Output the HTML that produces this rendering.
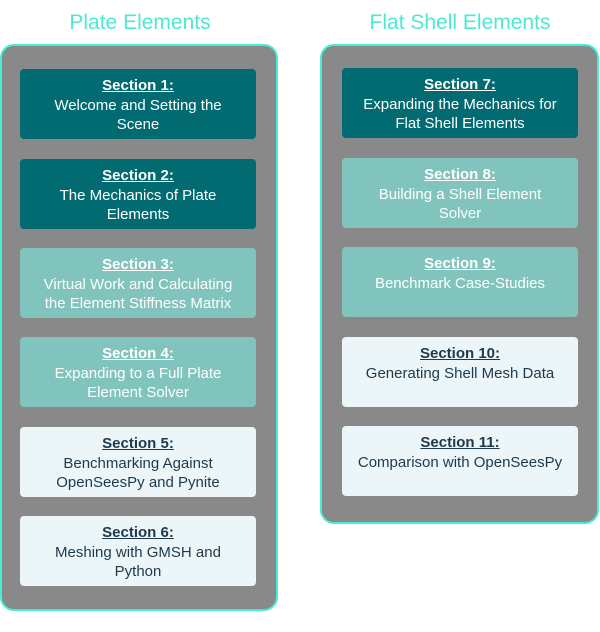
<!DOCTYPE html>
<html><head><style>
body{margin:0;width:600px;height:632px;background:#fff;position:relative;font-family:"Liberation Sans",sans-serif;overflow:hidden}
.t{position:absolute;top:11px;font-size:21px;color:#4ee8d2;text-align:center;width:280px}
.c{position:absolute;background:#898989;border:2.5px solid #45ecd6;border-radius:14px;box-sizing:border-box}
.b{position:absolute;width:236px;height:70px;border-radius:4px;box-sizing:border-box;text-align:center;font-size:15px;line-height:19.5px;padding-top:7px;white-space:nowrap}
.b u{font-weight:bold}
.d{background:#026b72;color:#fff}
.m{background:#81c4bd;color:#fff}
.l{background:#ecf5f8;color:#1d3a4d}
</style></head><body>
<div class="t" style="left:0">Plate Elements</div>
<div class="t" style="left:320px">Flat Shell Elements</div>
<div class="c" style="left:0;top:44px;width:278px;height:567px"></div>
<div class="c" style="left:320px;top:44px;width:279px;height:480px"></div>

<div class="b d" style="left:20px;top:69px"><u>Section 1:</u><br>Welcome and Setting the<br>Scene</div>
<div class="b d" style="left:20px;top:159px"><u>Section 2:</u><br>The Mechanics of Plate<br>Elements</div>
<div class="b m" style="left:20px;top:248px"><u>Section 3:</u><br>Virtual Work and Calculating<br>the Element Stiffness Matrix</div>
<div class="b m" style="left:20px;top:337px"><u>Section 4:</u><br>Expanding to a Full Plate<br>Element Solver</div>
<div class="b l" style="left:20px;top:427px"><u>Section 5:</u><br>Benchmarking Against<br>OpenSeesPy and Pynite</div>
<div class="b l" style="left:20px;top:516px"><u>Section 6:</u><br>Meshing with GMSH and<br>Python</div>

<div class="b d" style="left:342px;top:68px"><u>Section 7:</u><br>Expanding the Mechanics for<br>Flat Shell Elements</div>
<div class="b m" style="left:342px;top:158px"><u>Section 8:</u><br>Building a Shell Element<br>Solver</div>
<div class="b m" style="left:342px;top:247px"><u>Section 9:</u><br>Benchmark Case-Studies</div>
<div class="b l" style="left:342px;top:337px"><u>Section 10:</u><br>Generating Shell Mesh Data</div>
<div class="b l" style="left:342px;top:426px"><u>Section 11:</u><br>Comparison with OpenSeesPy</div>
</body></html>
